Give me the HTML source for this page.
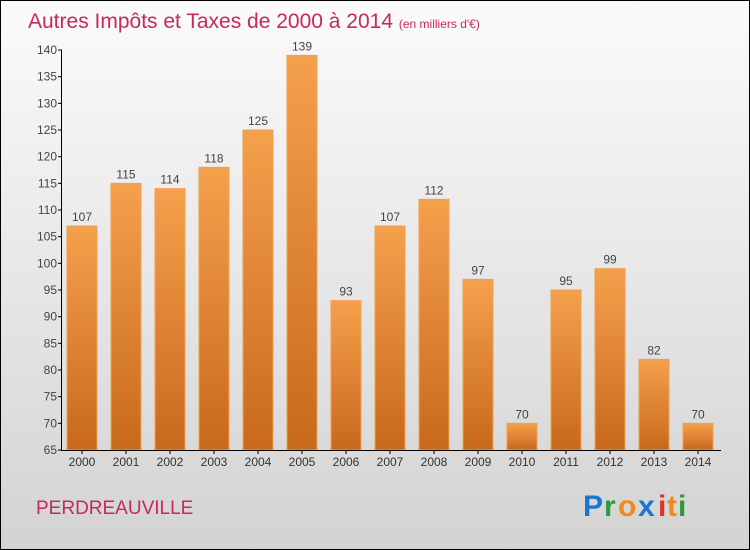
<!DOCTYPE html>
<html><head><meta charset="utf-8"><style>
body{margin:0}
#wrap{width:750px;height:550px;position:relative;overflow:hidden}
svg text{font-family:"Liberation Sans",sans-serif}
</style></head><body>
<div id="wrap">
<svg id="chart" width="750" height="550" xmlns="http://www.w3.org/2000/svg">
<defs>
<linearGradient id="bg" x1="0" y1="0" x2="0" y2="1"><stop offset="0" stop-color="#fbfbfb"/><stop offset="1" stop-color="#d3d3d3"/></linearGradient>
<linearGradient id="bar" x1="0" y1="0" x2="0" y2="1"><stop offset="0" stop-color="#f5a04c"/><stop offset="1" stop-color="#c8691c"/></linearGradient>
</defs>
<rect x="0.5" y="0.5" width="749" height="549" fill="url(#bg)" stroke="#000"/>
<text x="28" y="28" font-size="21" fill="#c8285a">Autres Impôts et Taxes de 2000 à 2014 <tspan font-size="12">(en milliers d'€)</tspan></text>
<g id="bars"></g>
<g id="axes"></g>
<text x="36" y="514" font-size="19" fill="#c8285a">PERDREAUVILLE</text>
<g font-size="30" font-weight="bold">
<text x="583" y="516" fill="#1a75cf">P</text><text x="604" y="516" fill="#2a9a3a">r</text><text x="618" y="516" fill="#f08a1c">o</text><text x="638" y="516" fill="#1a75cf">x</text><text x="658" y="516" fill="#e03020">i</text><text x="667" y="516" fill="#f08a1c">t</text><text x="678" y="516" fill="#2a9a3a">i</text>
</g>
</svg>
</div>
<script>
const categories=["2000","2001","2002","2003","2004","2005","2006","2007","2008","2009","2010","2011","2012","2013","2014"];
const values=[107,115,114,118,125,139,93,107,112,97,70,95,99,82,70];
const yTicks=[65,70,75,80,85,90,95,100,105,110,115,120,125,130,135,140];
const NS="http://www.w3.org/2000/svg";
const yMin=65,yMax=140,yTop=50,yBot=450;
function y(v){return yBot-(v-yMin)/(yMax-yMin)*(yBot-yTop);}
function x(i){return 82+i*44;}
function mk(tag,attrs,parent){const e=document.createElementNS(NS,tag);for(const k in attrs)e.setAttribute(k,attrs[k]);parent.appendChild(e);return e;}
const bars=document.getElementById('bars'),axes=document.getElementById('axes');
values.forEach((v,i)=>{
 const r=mk('rect',{x:x(i)-15,y:y(v),width:30,height:yBot-y(v),fill:'url(#bar)',stroke:'#f0a050','stroke-width':1},bars);
 
 
 const t=mk('text',{x:x(i),y:y(v)-5,'text-anchor':'middle','font-size':12,fill:'#444'},bars);
 t.textContent=v;
 
 
 const c=mk('text',{x:x(i),y:466,'text-anchor':'middle','font-size':12,fill:'#333'},axes);
 c.textContent=categories[i];
 
 
 const tk=mk('line',{x1:x(i),x2:x(i),y1:yBot,y2:yBot+4,stroke:'#000'},axes);
 
 
});
yTicks.forEach(v=>{
 const l=mk('line',{x1:58,x2:62,y1:y(v),y2:y(v),stroke:'#000'},axes);
 
 
 const t=mk('text',{x:57,y:y(v)+4,'text-anchor':'end','font-size':12,fill:'#444'},axes);
 t.textContent=v;
 
 
});
const ya=mk('line',{x1:61.5,x2:61.5,y1:yTop,y2:yBot,stroke:'#000'},axes);


const xa=mk('line',{x1:61,x2:721,y1:yBot+0.5,y2:yBot+0.5,stroke:'#000'},axes);


</script>
</body></html>
